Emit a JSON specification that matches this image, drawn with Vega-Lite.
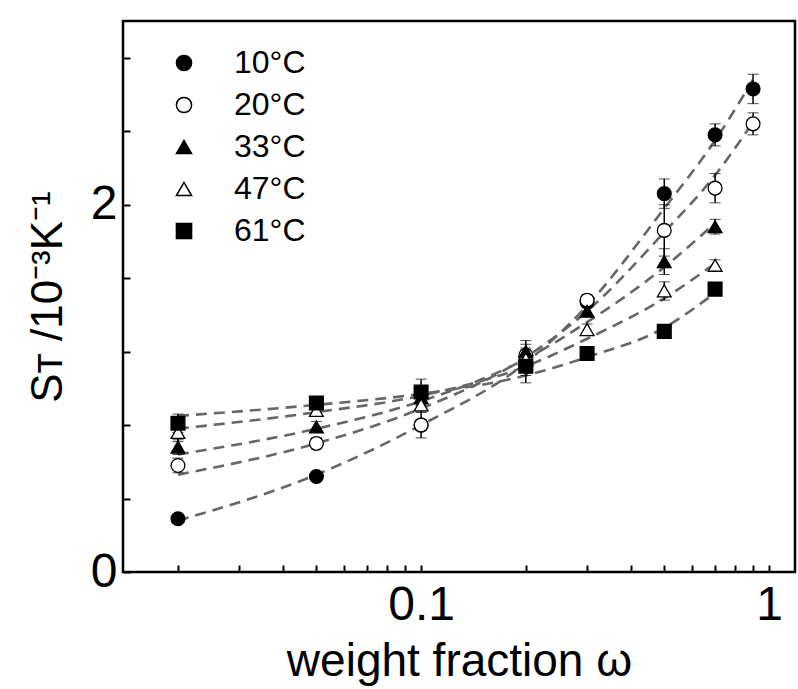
{
  "$schema": "https://vega.github.io/schema/vega-lite/v6.json",
  "width": 672,
  "height": 551,
  "autosize": "none",
  "padding": {"left": 123, "top": 21, "right": 3, "bottom": 117},
  "config": {
    "font": "Liberation Sans",
    "view": {"stroke": "black", "strokeWidth": 2.5},
    "axis": {"grid": false, "labelColor": "black", "titleColor": "black", "titleFontWeight": "normal", "domain": false, "ticks": true, "tickColor": "black", "tickWidth": 2, "labelOverlap": false, "labelFlush": false}
  },
  "datasets": {
    "pts": [
      {"T": "10°C", "w": 0.02, "S": 0.29, "e": 0.02},
      {"T": "10°C", "w": 0.05, "S": 0.52, "e": 0.02},
      {"T": "10°C", "w": 0.1, "S": 0.80, "e": 0.03},
      {"T": "10°C", "w": 0.2, "S": 1.12, "e": 0.05},
      {"T": "10°C", "w": 0.3, "S": 1.47, "e": 0.03},
      {"T": "10°C", "w": 0.5, "S": 2.06, "e": 0.08},
      {"T": "10°C", "w": 0.7, "S": 2.38, "e": 0.06},
      {"T": "10°C", "w": 0.9, "S": 2.63, "e": 0.08},
      {"T": "20°C", "w": 0.02, "S": 0.58, "e": 0.04},
      {"T": "20°C", "w": 0.05, "S": 0.70, "e": 0.03},
      {"T": "20°C", "w": 0.1, "S": 0.80, "e": 0.07},
      {"T": "20°C", "w": 0.2, "S": 1.18, "e": 0.06},
      {"T": "20°C", "w": 0.3, "S": 1.48, "e": 0.03},
      {"T": "20°C", "w": 0.5, "S": 1.86, "e": 0.14},
      {"T": "20°C", "w": 0.7, "S": 2.09, "e": 0.08},
      {"T": "20°C", "w": 0.9, "S": 2.44, "e": 0.06},
      {"T": "33°C", "w": 0.02, "S": 0.68, "e": 0.04},
      {"T": "33°C", "w": 0.05, "S": 0.79, "e": 0.03},
      {"T": "33°C", "w": 0.1, "S": 0.95, "e": 0.04},
      {"T": "33°C", "w": 0.2, "S": 1.20, "e": 0.06},
      {"T": "33°C", "w": 0.3, "S": 1.42, "e": 0.03},
      {"T": "33°C", "w": 0.5, "S": 1.69, "e": 0.07},
      {"T": "33°C", "w": 0.7, "S": 1.88, "e": 0.04},
      {"T": "47°C", "w": 0.02, "S": 0.76, "e": 0.05},
      {"T": "47°C", "w": 0.05, "S": 0.88, "e": 0.03},
      {"T": "47°C", "w": 0.1, "S": 0.91, "e": 0.04},
      {"T": "47°C", "w": 0.2, "S": 1.16, "e": 0.06},
      {"T": "47°C", "w": 0.3, "S": 1.32, "e": 0.03},
      {"T": "47°C", "w": 0.5, "S": 1.53, "e": 0.05},
      {"T": "47°C", "w": 0.7, "S": 1.67, "e": 0.03},
      {"T": "61°C", "w": 0.02, "S": 0.81, "e": 0.05},
      {"T": "61°C", "w": 0.05, "S": 0.92, "e": 0.02},
      {"T": "61°C", "w": 0.1, "S": 0.98, "e": 0.07},
      {"T": "61°C", "w": 0.2, "S": 1.12, "e": 0.09},
      {"T": "61°C", "w": 0.3, "S": 1.19, "e": 0.02},
      {"T": "61°C", "w": 0.5, "S": 1.31, "e": 0.02},
      {"T": "61°C", "w": 0.7, "S": 1.54, "e": 0.02}
    ],
    "fits": [
      {"T": "10°C", "w": 0.02, "S": 0.28},
      {"T": "10°C", "w": 0.05, "S": 0.53},
      {"T": "10°C", "w": 0.1, "S": 0.80},
      {"T": "10°C", "w": 0.2, "S": 1.14},
      {"T": "10°C", "w": 0.3, "S": 1.45},
      {"T": "10°C", "w": 0.5, "S": 1.98},
      {"T": "10°C", "w": 0.7, "S": 2.35},
      {"T": "10°C", "w": 0.9, "S": 2.68},
      {"T": "20°C", "w": 0.02, "S": 0.53},
      {"T": "20°C", "w": 0.05, "S": 0.70},
      {"T": "20°C", "w": 0.1, "S": 0.89},
      {"T": "20°C", "w": 0.2, "S": 1.17},
      {"T": "20°C", "w": 0.3, "S": 1.42},
      {"T": "20°C", "w": 0.5, "S": 1.85},
      {"T": "20°C", "w": 0.7, "S": 2.16},
      {"T": "20°C", "w": 0.9, "S": 2.45},
      {"T": "33°C", "w": 0.02, "S": 0.64},
      {"T": "33°C", "w": 0.05, "S": 0.78},
      {"T": "33°C", "w": 0.1, "S": 0.93},
      {"T": "33°C", "w": 0.2, "S": 1.16},
      {"T": "33°C", "w": 0.3, "S": 1.36},
      {"T": "33°C", "w": 0.5, "S": 1.66},
      {"T": "33°C", "w": 0.7, "S": 1.90},
      {"T": "47°C", "w": 0.02, "S": 0.78},
      {"T": "47°C", "w": 0.05, "S": 0.87},
      {"T": "47°C", "w": 0.1, "S": 0.96},
      {"T": "47°C", "w": 0.2, "S": 1.12},
      {"T": "47°C", "w": 0.3, "S": 1.27},
      {"T": "47°C", "w": 0.5, "S": 1.49},
      {"T": "47°C", "w": 0.7, "S": 1.68},
      {"T": "61°C", "w": 0.02, "S": 0.85},
      {"T": "61°C", "w": 0.05, "S": 0.91},
      {"T": "61°C", "w": 0.1, "S": 0.97},
      {"T": "61°C", "w": 0.2, "S": 1.07},
      {"T": "61°C", "w": 0.3, "S": 1.17},
      {"T": "61°C", "w": 0.5, "S": 1.33},
      {"T": "61°C", "w": 0.7, "S": 1.52}
    ]
  },
  "layer": [
    {
      "data": {"name": "fits"},
      "mark": {"type": "line", "color": "#666666", "strokeWidth": 2.6, "strokeDash": [11, 7], "interpolate": "monotone"},
      "encoding": {
        "x": {"field": "w", "type": "quantitative", "title": "weight fraction ω", "scale": {"type": "log", "domain": [0.0139, 1.188], "nice": false},
          "axis": {"orient": "bottom", "title": "weight fraction ω", "titleFontSize": 46, "titlePadding": 10, "labelFontSize": 48, "labelPadding": 16, "labelOverlap": false, "labelFlush": false,
            "values": [0.02, 0.03, 0.04, 0.05, 0.06, 0.07, 0.08, 0.09, 0.1, 0.2, 0.3, 0.4, 0.5, 0.6, 0.7, 0.8, 0.9, 1],
            "labelExpr": "datum.value == 0.1 ? '0.1' : (datum.value == 1 ? '1' : '')", "tickSize": -7}},
        "y": {"field": "S", "type": "quantitative", "title": "Sᴛ /10⁻³K⁻¹", "scale": {"domain": [0, 3], "nice": false, "zero": false},
          "axis": {"orient": "left", "title": "Sᴛ /10⁻³K⁻¹", "titleFontSize": 44, "titlePadding": 20, "labelFontSize": 48, "labelPadding": 13, "labelOverlap": false, "labelFlush": false,
            "values": [0, 0.2, 0.4, 0.6, 0.8, 1, 1.2, 1.4, 1.6, 1.8, 2, 2.2, 2.4, 2.6, 2.8, 3],
            "labelExpr": "datum.value == 0 ? '0' : (datum.value == 1 ? '1' : (datum.value == 2 ? '2' : (datum.value == 3 ? '3' : '')))", "tickSize": -7}},
        "detail": {"field": "T", "type": "nominal"}
      }
    },
    {
      "data": {"name": "pts"},
      "mark": {"type": "errorbar", "ticks": {"size": 11, "color": "black", "strokeWidth": 1.5}, "rule": {"color": "black", "strokeWidth": 1.5}},
      "encoding": {
        "x": {"field": "w", "type": "quantitative", "title": "weight fraction ω"},
        "y": {"field": "S", "type": "quantitative", "title": "Sᴛ /10⁻³K⁻¹"},
        "yError": {"field": "e"}
      }
    },
    {
      "data": {"name": "pts"},
      "mark": {"type": "point", "filled": false, "stroke": "black", "strokeWidth": 1.3, "opacity": 1, "size": 190},
      "encoding": {
        "x": {"field": "w", "type": "quantitative", "title": "weight fraction ω"},
        "y": {"field": "S", "type": "quantitative", "title": "Sᴛ /10⁻³K⁻¹"},
        "shape": {"field": "T", "type": "nominal", "scale": {"domain": ["10°C", "20°C", "33°C", "47°C", "61°C"], "range": ["circle", "circle", "triangle-up", "triangle-up", "square"]},
          "legend": {"title": null, "orient": "none", "legendX": 45, "legendY": 26, "labelFontSize": 32, "labelFont": "Liberation Sans", "labelColor": "black", "labelOffset": 34, "rowPadding": 10, "symbolSize": 230, "padding": 0,
            "encode": {"symbols": {"update": {"stroke": {"value": "black"}, "strokeWidth": {"value": 1.3}}}}}},
        "fill": {"field": "T", "type": "nominal", "scale": {"domain": ["10°C", "20°C", "33°C", "47°C", "61°C"], "range": ["black", "white", "black", "white", "black"]},
          "legend": {"title": null, "orient": "none", "legendX": 45, "legendY": 26, "labelFontSize": 32, "labelFont": "Liberation Sans", "labelColor": "black", "labelOffset": 34, "rowPadding": 10, "symbolSize": 230, "padding": 0,
            "encode": {"symbols": {"update": {"stroke": {"value": "black"}, "strokeWidth": {"value": 1.3}}}}}}
      }
    }
  ]
}
